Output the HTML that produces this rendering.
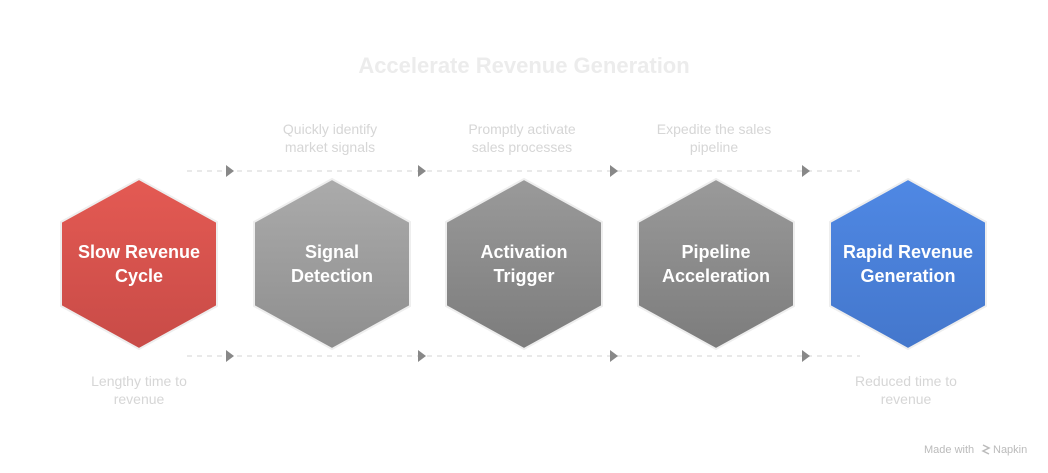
<!DOCTYPE html>
<html><head><style>
body{margin:0;width:1048px;height:468px;background:#fff;overflow:hidden;font-family:"Liberation Sans",sans-serif}
</style></head><body>
<svg width="1048" height="468" viewBox="0 0 1048 468" xmlns="http://www.w3.org/2000/svg" font-family="Liberation Sans, sans-serif">
<defs>
<linearGradient id="r" x1="0" y1="0" x2="0" y2="1"><stop offset="0" stop-color="#e45a53"/><stop offset="1" stop-color="#c84b47"/></linearGradient>
<linearGradient id="g1" x1="0" y1="0" x2="0" y2="1"><stop offset="0" stop-color="#ababab"/><stop offset="1" stop-color="#8e8e8e"/></linearGradient>
<linearGradient id="g2" x1="0" y1="0" x2="0" y2="1"><stop offset="0" stop-color="#9a9a9a"/><stop offset="1" stop-color="#7c7c7c"/></linearGradient>
<linearGradient id="b" x1="0" y1="0" x2="0" y2="1"><stop offset="0" stop-color="#4f88e4"/><stop offset="1" stop-color="#4477cc"/></linearGradient>
<path id="hx" d="M0,-85 L78,-42 L78,42 L0,85 L-78,42 L-78,-42 Z"/>
</defs>
<text x="524" y="73" text-anchor="middle" font-size="22" font-weight="bold" fill="#ececec">Accelerate Revenue Generation</text>
<g stroke="#e2e2e2" stroke-width="1.5" stroke-dasharray="5,5">
<line x1="187" y1="171" x2="860" y2="171"/><line x1="187" y1="356" x2="860" y2="356"/>
</g>
<g fill="#888">
<path d="M226,165 L234,171 L226,177Z"/><path d="M418,165 L426,171 L418,177Z"/><path d="M610,165 L618,171 L610,177Z"/><path d="M802,165 L810,171 L802,177Z"/>
<path d="M226,350 L234,356 L226,362Z"/><path d="M418,350 L426,356 L418,362Z"/><path d="M610,350 L618,356 L610,362Z"/><path d="M802,350 L810,356 L802,362Z"/>
</g>
<g stroke="#eee" stroke-width="2">
<use href="#hx" x="139" y="264" fill="url(#r)"/>
<use href="#hx" x="332" y="264" fill="url(#g1)"/>
<use href="#hx" x="524" y="264" fill="url(#g2)"/>
<use href="#hx" x="716" y="264" fill="url(#g2)"/>
<use href="#hx" x="908" y="264" fill="url(#b)"/>
</g>
<g fill="#fff" font-size="18" font-weight="bold" text-anchor="middle">
<text x="139" y="258">Slow Revenue</text><text x="139" y="282">Cycle</text>
<text x="332" y="258">Signal</text><text x="332" y="282">Detection</text>
<text x="524" y="258">Activation</text><text x="524" y="282">Trigger</text>
<text x="716" y="258">Pipeline</text><text x="716" y="282">Acceleration</text>
<text x="908" y="258">Rapid Revenue</text><text x="908" y="282">Generation</text>
</g>
<g fill="#d6d6d6" font-size="14" text-anchor="middle">
<text x="330" y="134">Quickly identify</text><text x="330" y="152">market signals</text>
<text x="522" y="134">Promptly activate</text><text x="522" y="152">sales processes</text>
<text x="714" y="134">Expedite the sales</text><text x="714" y="152">pipeline</text>
<text x="139" y="386">Lengthy time to</text><text x="139" y="404">revenue</text>
<text x="906" y="386">Reduced time to</text><text x="906" y="404">revenue</text>
</g>
<text x="924" y="453" font-size="11" fill="#bbb">Made with</text>
<path d="M983,445 l6,3 l-6,3 l6,3" stroke="#bbb" stroke-width="1.5" fill="none"/>
<text x="993" y="453" font-size="11" fill="#bbb">Napkin</text>
</svg>
</body></html>
